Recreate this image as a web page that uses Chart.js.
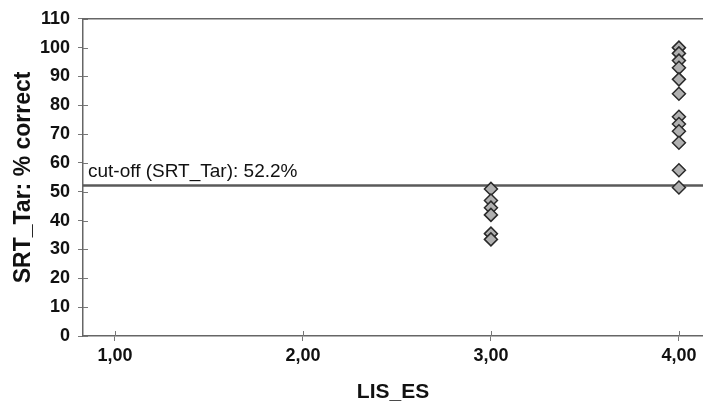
<!DOCTYPE html>
<html>
<head>
<meta charset="utf-8">
<script src="https://cdn.jsdelivr.net/npm/chart.js@4"></script>
<style>
  html, body { margin: 0; padding: 0; background: #fff; }
  #wrap { width: 703px; height: 411px; }
</style>
</head>
<body>
<div id="wrap"><canvas id="grafico"></canvas></div>
<script>
// datos
var grupoX = [3, 4];
var valoresGrupo3 = [51, 47, 44.5, 42, 35.5, 33.5];
var valoresGrupo4 = [100, 98, 95.5, 93, 89, 84, 76, 73.5, 71, 67, 57.5, 51.5];
var corte = 52.2;
var etiquetaCorte = 'cut-off (SRT_Tar): 52.2%';
var ticksX = [1, 2, 3, 4];
var ticksY = [0, 10, 20, 30, 40, 50, 60, 70, 80, 90, 100, 110];

var fuente = "'Liberation Sans', Arial, sans-serif";
var xMin = 0.83, xMax = 4.128;

var puntos = [];
valoresGrupo3.forEach(function(v) { puntos.push({ x: grupoX[0], y: v }); });
valoresGrupo4.forEach(function(v) { puntos.push({ x: grupoX[1], y: v }); });

// marcas hacia dentro, linea superior y texto del corte
var extras = {
  id: 'extras',
  afterDraw: function(chart) {
    var ctx = chart.ctx, a = chart.chartArea;
    var sx = chart.scales.x, sy = chart.scales.y;
    ctx.save();
    ctx.strokeStyle = '#777';
    ctx.lineWidth = 1;
    ticksY.forEach(function(v) {
      var p = Math.round(sy.getPixelForValue(v)) + 0.5;
      ctx.beginPath(); ctx.moveTo(a.left, p); ctx.lineTo(a.left + 5, p); ctx.stroke();
    });
    ticksX.forEach(function(v) {
      var p = Math.round(sx.getPixelForValue(v)) + 0.5;
      ctx.beginPath(); ctx.moveTo(p, a.bottom); ctx.lineTo(p, a.bottom - 5); ctx.stroke();
    });
    ctx.strokeStyle = '#666';
    ctx.lineWidth = 1.5;
    ctx.beginPath(); ctx.moveTo(a.left, a.top); ctx.lineTo(a.right, a.top); ctx.stroke();
    var yc = sy.getPixelForValue(corte);
    ctx.fillStyle = '#111';
    ctx.font = '19px ' + fuente;
    ctx.textBaseline = 'alphabetic';
    ctx.textAlign = 'left';
    ctx.fillText(etiquetaCorte, a.left + 5, yc - 8);
    ctx.restore();
  }
};

var ctx = document.getElementById('grafico').getContext('2d');
var grafico = new Chart(ctx, {
  type: 'scatter',
  data: {
    datasets: [{
      data: puntos,
      pointStyle: 'rectRot',
      pointRadius: 6.5,
      backgroundColor: '#b0b0b0',
      borderColor: '#2a2a2a',
      borderWidth: 1.5
    }, {
      type: 'line',
      data: [{ x: xMin, y: corte }, { x: xMax, y: corte }],
      borderColor: '#5a5a5a',
      borderWidth: 2.5,
      pointRadius: 0,
      fill: false
    }]
  },
  plugins: [extras],
  options: {
    responsive: true,
    maintainAspectRatio: false,
    animation: false,
    layout: { autoPadding: false, padding: { top: 13, right: 0, left: 0, bottom: 0 } },
    plugins: { legend: { display: false }, tooltip: { enabled: false } },
    scales: {
      x: {
        type: 'linear',
        min: xMin,
        max: xMax,
        afterFit: function(s) { s.height = 75; s.paddingRight = 0; s.paddingLeft = 0; },
        afterBuildTicks: function(s) { s.ticks = ticksX.map(function(v) { return { value: v }; }); },
        ticks: {
          color: '#111',
          font: { family: fuente, size: 18, weight: 'bold' },
          padding: 4,
          maxRotation: 0,
          callback: function(v) { return v.toFixed(2).replace('.', ','); }
        },
        grid: { drawOnChartArea: false, tickLength: 5, color: '#777' },
        border: { color: '#666', width: 1.5 },
        title: {
          display: true,
          text: 'LIS_ES',
          color: '#111',
          font: { family: fuente, size: 21, weight: 'bold' },
          padding: { top: 0, bottom: 6 }
        }
      },
      y: {
        min: 0,
        max: 110,
        afterFit: function(s) { s.width = 83; },
        afterBuildTicks: function(s) { s.ticks = ticksY.map(function(v) { return { value: v }; }); },
        ticks: {
          color: '#111',
          font: { family: fuente, size: 18, weight: 'bold' },
          padding: 8
        },
        grid: { drawOnChartArea: false, tickLength: 5, color: '#777' },
        border: { color: '#666', width: 1.5 },
        title: {
          display: true,
          text: 'SRT_Tar: % correct',
          color: '#111',
          font: { family: fuente, size: 23, weight: 'bold' },
          padding: { top: 10, bottom: 0 }
        }
      }
    }
  }
});
</script>
</body>
</html>
